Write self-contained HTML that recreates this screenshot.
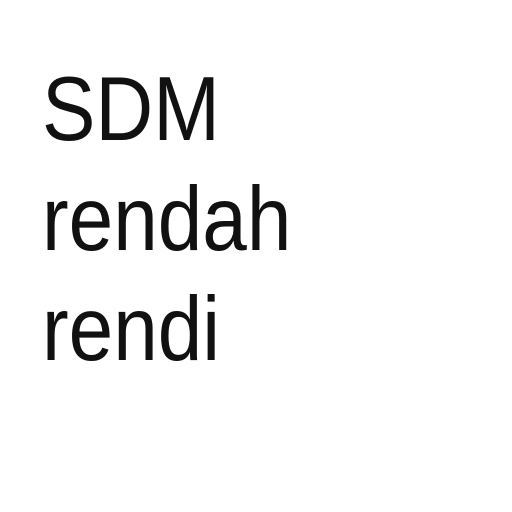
<!DOCTYPE html>
<html><head><style>
html,body{margin:0;padding:0;background:#fff;width:512px;height:512px;overflow:hidden}
.t{position:absolute;left:42px;font-family:"Liberation Sans",Arial,sans-serif;font-size:91px;line-height:91px;color:#111;transform:scaleX(0.88);transform-origin:0 0;white-space:nowrap}
</style></head><body>
<div class="t" style="top:64px">SDM</div>
<div class="t" style="top:174px">rendah</div>
<div class="t" style="top:284px">rendi</div>
</body></html>
